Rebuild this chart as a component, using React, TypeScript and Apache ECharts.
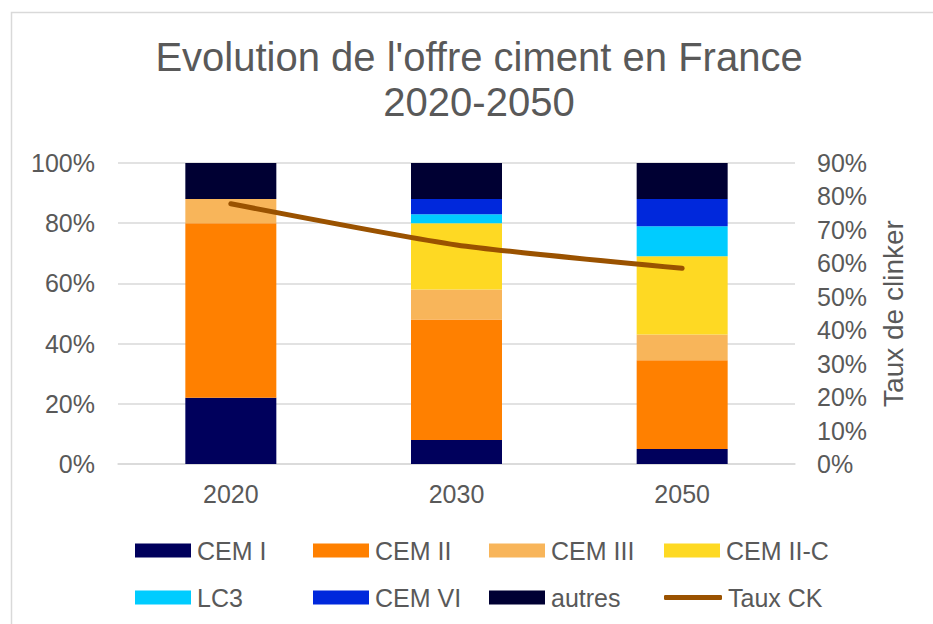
import React, { useEffect, useRef } from "react";
import * as echarts from "echarts";

const categories = ["2020", "2030", "2050"];
const cemI = [22, 8, 5];
const cemII = [58, 40, 29.5];
const cemIII = [8, 10, 8.5];
const cemIIC = [0, 22, 26];
const lc3 = [0, 3, 10];
const cemVI = [0, 5, 9];
const autres = [12, 12, 12];
const tauxCK = [77.8, 65.5, 58.5];

const barSeries = [
  { name: "CEM I", data: cemI, color: "#00005c" },
  { name: "CEM II", data: cemII, color: "#ff8000" },
  { name: "CEM III", data: cemIII, color: "#f8b55a" },
  { name: "CEM II-C", data: cemIIC, color: "#fed923" },
  { name: "LC3", data: lc3, color: "#00ccff" },
  { name: "CEM VI", data: cemVI, color: "#0028dc" },
  { name: "autres", data: autres, color: "#000033" },
];

const legendOrder = ["CEM I", "CEM II", "CEM III", "CEM II-C", "LC3", "CEM VI", "autres", "Taux CK"];
const legendCols = [135, 313, 489, 664];
const legendRows = [538, 585];

const FONT = '"Liberation Sans", Arial, sans-serif';
const TXT = "#595959";
const CK_COLOR = "#9a5200";

export default function App() {
  const ref = useRef<HTMLDivElement>(null);
  useEffect(() => {
    if (!ref.current) return;
    const chart = echarts.init(ref.current, null, { renderer: "svg" });
    const legends = legendOrder.map((name, i) => {
      const isLine = name === "Taux CK";
      const base: any = {
        data: [name],
        left: legendCols[i % 4],
        top: legendRows[Math.floor(i / 4)],
        padding: 0,
        itemWidth: isLine ? 58 : 56,
        itemHeight: isLine ? 5 : 14,
        icon: isLine ? "roundRect" : "rect",
        itemGap: 0,
        selectedMode: false,
        textStyle: { fontSize: 25, color: TXT, fontFamily: FONT, padding: [0, 0, 0, 1] },
      };
      if (isLine) base.itemStyle = { color: CK_COLOR };
      return base;
    });
    chart.setOption({
      animation: false,
      backgroundColor: "#ffffff",
      textStyle: { fontFamily: FONT },
      title: {
        text: "Evolution de l'offre ciment en France\n2020-2050",
        left: 479,
        textAlign: "center",
        top: 34,
        padding: 0,
        textStyle: { fontSize: 40, fontWeight: "normal", color: TXT, lineHeight: 45, fontFamily: FONT },
      },
      graphic: [
        {
          type: "rect",
          shape: { x: 11.5, y: 12.5, width: 1000, height: 700 },
          style: { fill: "none", stroke: "#d9d9d9", lineWidth: 1.5 },
          silent: true,
          z: -1,
        },
      ],
      legend: legends,
      grid: { left: 118, right: 138, top: 163, bottom: 160 },
      xAxis: {
        type: "category",
        data: categories,
        axisLine: { lineStyle: { color: "#d9d9d9", width: 1.5 } },
        axisTick: { show: false },
        axisLabel: { fontSize: 25, color: TXT, margin: 17, fontFamily: FONT },
      },
      yAxis: [
        {
          type: "value",
          min: 0,
          max: 100,
          interval: 20,
          axisLabel: { formatter: "{value}%", fontSize: 25, color: TXT, margin: 23, fontFamily: FONT },
          splitLine: { lineStyle: { color: "#d9d9d9", width: 1.5 } },
          axisLine: { show: false },
          axisTick: { show: false },
        },
        {
          type: "value",
          min: 0,
          max: 90,
          interval: 10,
          position: "right",
          name: "Taux de clinker",
          nameLocation: "middle",
          nameRotate: 90,
          nameGap: 84,
          nameTextStyle: { fontSize: 28, color: TXT, fontFamily: FONT },
          axisLabel: { formatter: "{value}%", fontSize: 25, color: TXT, margin: 22, fontFamily: FONT },
          splitLine: { show: false },
          axisLine: { show: false },
          axisTick: { show: false },
        },
      ],
      series: [
        ...barSeries.map((s) => ({
          name: s.name,
          type: "bar",
          stack: "total",
          barWidth: 91,
          data: s.data,
          itemStyle: { color: s.color },
        })),
        {
          name: "Taux CK",
          type: "line",
          yAxisIndex: 1,
          data: tauxCK,
          smooth: 0.2,
          symbol: "none",
          lineStyle: { color: CK_COLOR, width: 5, cap: "round" },
          itemStyle: { color: CK_COLOR },
          z: 5,
        },
      ],
    });
    return () => chart.dispose();
  }, []);
  return (
    <div
      ref={ref}
      style={{ position: "absolute", left: 0, top: 0, width: 933, height: 624 }}
    />
  );
}
